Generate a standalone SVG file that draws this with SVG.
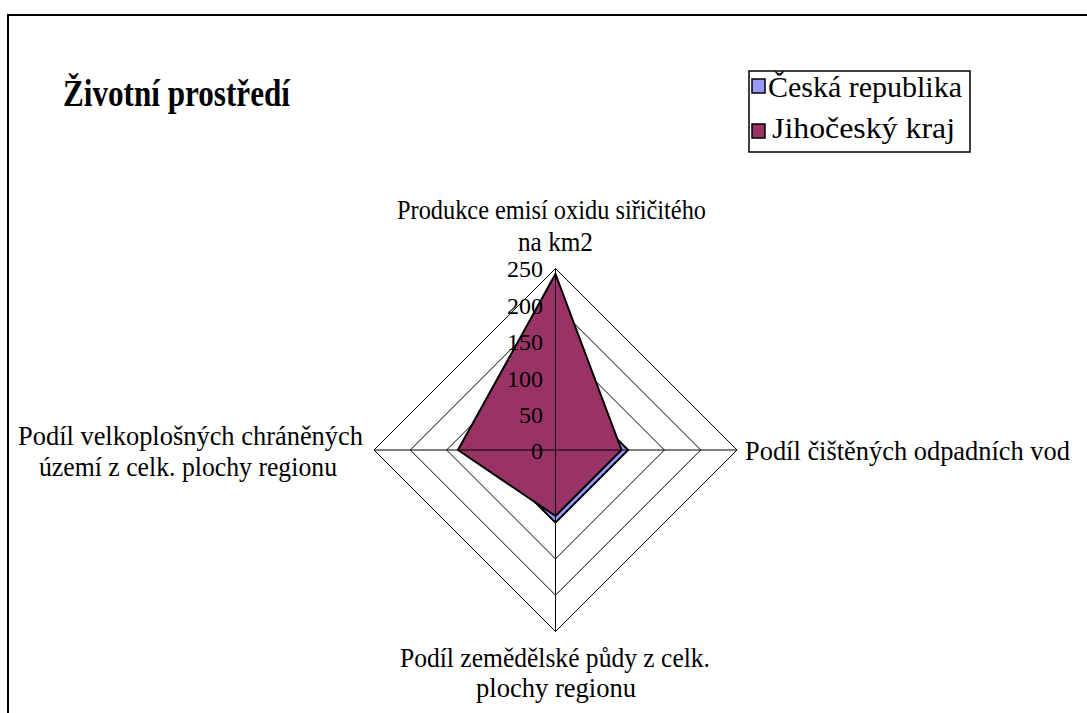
<svg xmlns="http://www.w3.org/2000/svg" width="1087" height="713" viewBox="0 0 1087 713">
<style>
text{font-family:"Liberation Serif","Times New Roman",serif;fill:#000}
.lbl{font-size:28px}
.leg{font-size:29px}
.tick{font-size:24px}
.grid{fill:none;stroke:#000;stroke-width:1}
.ax{stroke:#000;stroke-width:1}
.ser{stroke:#000;stroke-width:2;stroke-linejoin:miter}
</style>
<rect x="0" y="0" width="1087" height="713" fill="#fff"/>
<rect x="8" y="15" width="1100" height="720" fill="none" stroke="#000" stroke-width="2"/>
<g id="title"><text x="63" y="106" font-family="Liberation Serif, serif" font-size="37" font-weight="bold" textLength="227" lengthAdjust="spacingAndGlyphs">Životní prostředí</text></g>
<g id="legend" font-family="Liberation Serif, serif">
<rect x="749" y="71" width="221" height="81" fill="#fff" stroke="#000" stroke-width="1.5"/>
<rect x="752" y="79" width="13" height="14" fill="#9999FF" stroke="#000" stroke-width="1.5"/>
<text class="leg" x="768" y="97" textLength="194" lengthAdjust="spacingAndGlyphs">Česká republika</text>
<rect x="752" y="124" width="13" height="14" fill="#993366" stroke="#000" stroke-width="1.5"/>
<text class="leg" x="772" y="138" textLength="183" lengthAdjust="spacingAndGlyphs">Jihočeský kraj</text>
</g>
<g id="grid">
<polygon class="grid" points="555.5,413.7 591.8,450 555.5,486.3 519.2,450"/>
<polygon class="grid" points="555.5,377.4 628.1,450 555.5,522.6 482.9,450"/>
<polygon class="grid" points="555.5,341.1 664.4,450 555.5,558.9 446.6,450"/>
<polygon class="grid" points="555.5,304.8 700.7,450 555.5,595.2 410.3,450"/>
<polygon class="grid" points="555.5,268.5 737,450 555.5,631.5 374,450"/>
</g>
<g id="series-cr"><polygon class="ser" fill="#9999FF" points="555.5,377.4 628.1,450 555.5,522.6 482.9,450"/></g>
<g id="series-jc"><polygon class="ser" fill="#993366" points="555.5,274 621.5,450 555.5,516 458,450"/></g>
<g id="axes">
<line class="ax" x1="555.5" y1="268.5" x2="555.5" y2="631.5"/>
<line class="ax" x1="374" y1="450" x2="737" y2="450"/>
</g>
<g id="ticks" text-anchor="end" font-family="Liberation Serif, serif">
<text class="tick" x="543" y="277">250</text>
<text class="tick" x="543" y="313.5">200</text>
<text class="tick" x="543" y="350">150</text>
<text class="tick" x="543" y="386.5">100</text>
<text class="tick" x="543" y="422.5">50</text>
<text class="tick" x="543" y="458.5">0</text>
</g>
<g id="axis-labels" font-family="Liberation Serif, serif">
<text class="lbl" x="397" y="219" textLength="309" lengthAdjust="spacingAndGlyphs">Produkce emisí oxidu siřičitého</text>
<text class="lbl" x="518" y="251" textLength="75" lengthAdjust="spacingAndGlyphs">na km2</text>
<text x="745" y="460" font-size="26.5" textLength="325" lengthAdjust="spacingAndGlyphs">Podíl čištěných odpadních vod</text>
<text class="lbl" x="400" y="667" textLength="310" lengthAdjust="spacingAndGlyphs">Podíl zemědělské půdy z celk.</text>
<text class="lbl" x="476" y="697" textLength="160" lengthAdjust="spacingAndGlyphs">plochy regionu</text>
<text class="lbl" x="18" y="445" textLength="345" lengthAdjust="spacingAndGlyphs">Podíl velkoplošných chráněných</text>
<text class="lbl" x="39" y="476" textLength="298" lengthAdjust="spacingAndGlyphs">území z celk. plochy regionu</text>
</g>
</svg>
